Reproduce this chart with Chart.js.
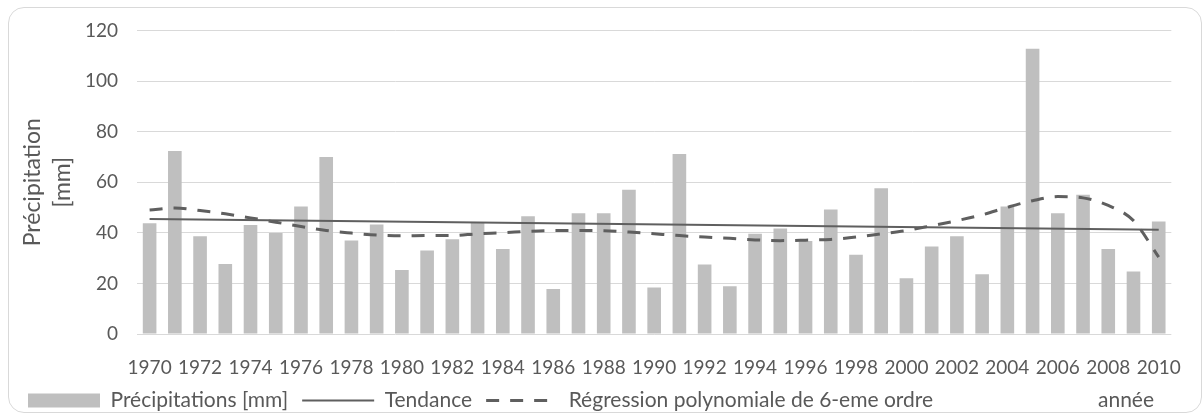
<!DOCTYPE html>
<html>
<head>
<meta charset="utf-8">
<script src="https://cdn.jsdelivr.net/npm/chart.js@4.4.1/dist/chart.umd.min.js"></script>
<style>
  html, body { margin: 0; padding: 0; background: #fff; }
  #wrap { position: relative; width: 1203px; height: 416px; }
  #frame { position: absolute; left: 8px; top: 7px; width: 1192px; height: 404px;
           border: 1px solid #d9d9d9; border-radius: 16px; pointer-events: none; }
  #chart { position: absolute; left: 0; top: 0; }
</style>
</head>
<body>
<div id="wrap">
  <canvas id="chart" width="1203" height="416"></canvas>
  <div id="frame"></div>
</div>
<script>
const years = ["1970","1971","1972","1973","1974","1975","1976","1977","1978","1979",
  "1980","1981","1982","1983","1984","1985","1986","1987","1988","1989",
  "1990","1991","1992","1993","1994","1995","1996","1997","1998","1999",
  "2000","2001","2002","2003","2004","2005","2006","2007","2008","2009","2010"];

// precipitation per year [mm]
const precip = [43.8, 72.3, 38.6, 27.7, 43.1, 39.9, 50.4, 70.0, 37.0, 43.3,
  25.3, 33.0, 37.5, 43.9, 33.6, 46.5, 17.8, 47.7, 47.7, 57.0,
  18.4, 71.1, 27.5, 18.9, 39.6, 41.7, 36.8, 49.2, 31.3, 57.6,
  22.0, 34.6, 38.6, 23.6, 50.4, 112.7, 47.7, 55.0, 33.6, 24.7, 44.5];

// linear trend, only the two ends are read, the line joins them
const trend = [45.5, null, null, null, null, null, null, null, null, null,
  null, null, null, null, null, null, null, null, null, null,
  null, null, null, null, null, null, null, null, null, null,
  null, null, null, null, null, null, null, null, null, null, 41.2];

// 6th order polynomial regression, read per year
const poly = [49.0, 49.8, 48.8, 47.5, 45.9, 44.2, 42.5, 40.9, 39.9, 39.1,
  38.8, 38.9, 38.9, 39.6, 40.0, 40.6, 40.9, 40.9, 40.8, 40.3,
  39.6, 38.9, 38.3, 37.8, 37.2, 36.9, 37.1, 37.4, 38.3, 39.6,
  40.9, 42.8, 44.8, 47.1, 50.1, 52.7, 54.3, 53.8, 50.8, 44.8, 30.4];

const yTicks = [0, 20, 40, 60, 80, 100, 120];
const seriesNames = ["Précipitations [mm]", "Tendance", "Régression polynomiale de 6-eme ordre"];
const yTitle = ["Précipitation", "[mm]"];
const xTitle = "année";

const textColor = "#595959";
const lineColor = "#5f5f5f";
const polyDash = [13, 11];
const fontFamily = "Lato, 'Liberation Sans', sans-serif";

// x axis title sits at the right end of the legend row
const anneeLabel = {
  id: "anneeLabel",
  afterDraw(chart) {
    const box = chart.legend.legendHitBoxes[0];
    const ctx = chart.ctx;
    ctx.save();
    ctx.font = "21px " + fontFamily;
    ctx.fillStyle = textColor;
    ctx.textAlign = "left";
    ctx.textBaseline = "middle";
    ctx.fillText(xTitle, 1098, box.top + box.height / 2);
    ctx.restore();
  },
};

const ctx = document.getElementById("chart").getContext("2d");
new Chart(ctx, {
  type: "bar",
  data: {
    labels: years,
    datasets: [
      {
        label: seriesNames[0],
        data: precip,
        backgroundColor: "#bfbfbf",
        barPercentage: 0.54,
        categoryPercentage: 1,
        order: 3,
      },
      {
        type: "line",
        label: seriesNames[1],
        data: trend,
        spanGaps: true,
        borderColor: lineColor,
        borderWidth: 2,
        pointRadius: 0,
        order: 2,
      },
      {
        type: "line",
        label: seriesNames[2],
        data: poly,
        borderColor: lineColor,
        borderWidth: 3,
        borderDash: polyDash,
        cubicInterpolationMode: "monotone",
        pointRadius: 0,
        order: 1,
      },
    ],
  },
  options: {
    responsive: false,
    animation: false,
    layout: { padding: { left: 14, right: 20, top: 27, bottom: -5 } },
    plugins: {
      tooltip: { enabled: false },
      legend: {
        position: "bottom",
        align: "start",
        labels: {
          color: textColor,
          font: { family: fontFamily, size: 21, lineHeight: 1 },
          usePointStyle: true,
          pointStyleWidth: 72,
          boxHeight: 14,
          padding: 14,
          generateLabels(chart) {
            const items = Chart.defaults.plugins.legend.labels.generateLabels(chart);
            items.sort((a, b) => a.datasetIndex - b.datasetIndex);
            items.forEach((item) => {
              const ds = chart.data.datasets[item.datasetIndex];
              if (item.datasetIndex === 0) {
                item.pointStyle = "rect";
                item.lineWidth = 0;
                item.strokeStyle = "rgba(0,0,0,0)";
              } else {
                item.pointStyle = "line";
                item.strokeStyle = ds.borderColor;
                item.lineWidth = ds.borderWidth;
                item.lineDash = ds.borderDash || [];
              }
            });
            return items;
          },
        },
      },
    },
    scales: {
      x: {
        afterFit(scale) {
          scale.height = 42;
        },
        grid: { display: false, drawTicks: false },
        border: { display: false },
        ticks: {
          color: textColor,
          font: { family: fontFamily, size: 19 },
          autoSkip: false,
          maxRotation: 0,
          padding: 22,
          callback(value, index) {
            return index % 2 === 0 ? this.getLabelForValue(value) : "";
          },
        },
      },
      y: {
        min: 0,
        max: 120,
        afterBuildTicks(scale) {
          scale.ticks = yTicks.map((v) => ({ value: v }));
        },
        afterFit(scale) {
          scale.width = 123;
        },
        grid: { color: "#d9d9d9", lineWidth: 1, drawTicks: false },
        border: { display: false },
        ticks: {
          color: textColor,
          font: { family: fontFamily, size: 19 },
          padding: 19,
        },
        title: {
          display: true,
          text: yTitle,
          color: textColor,
          font: { family: fontFamily, size: 23, lineHeight: 1.3 },
          padding: { top: 4, bottom: 0 },
        },
      },
    },
  },
  plugins: [anneeLabel],
});
</script>
</body>
</html>
